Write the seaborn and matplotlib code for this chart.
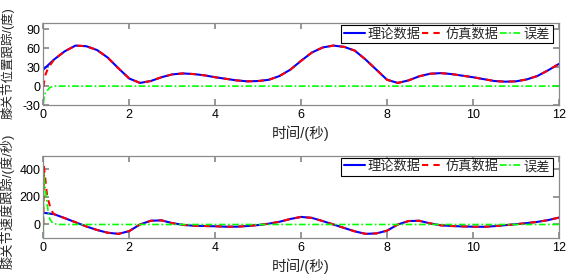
import matplotlib
matplotlib.use('Agg')
import matplotlib.pyplot as plt
import seaborn as sns

# time grid of the sampled curves (s)
t = [0.0, 0.25, 0.5, 0.75, 1.0, 1.25, 1.5, 1.75, 2.0, 2.25, 2.5, 2.75,
     3.0, 3.25, 3.5, 3.75, 4.0, 4.25, 4.5, 4.75, 5.0, 5.25, 5.5, 5.75,
     6.0, 6.25, 6.5, 6.75, 7.0, 7.25, 7.5, 7.75, 8.0, 8.25, 8.5, 8.75,
     9.0, 9.25, 9.5, 9.75, 10.0, 10.25, 10.5, 10.75, 11.0, 11.25, 11.5,
     11.75, 12.0]

# knee position, theory (deg)
pos_theory = [26, 42, 55, 64, 63, 57, 45, 28, 12, 5, 8, 14,
              18.5, 20, 19, 17, 14, 11.5, 9, 7.5, 8, 10, 16, 26,
              40, 53, 61, 64, 62, 56, 42, 26, 10, 5, 9, 15.5,
              19.5, 20.5, 19, 16.5, 14, 11, 8, 7, 7.5, 10.5, 16,
              25, 35]
# simulated position start-up (before it joins the theory curve)
pos_sim_t0 = [0.0, 0.05, 0.12, 0.2]
pos_sim_v0 = [-1, 18, 30, 37]
# position error
pos_err_t = [0.0, 0.02, 0.05, 0.08, 0.155, 0.27, 12.0]
pos_err = [-27, -18, -11, -8, -2, 0, 0]

# knee velocity, theory (deg/s)
vel_theory = [85, 75, 46, 16, -14, -40, -60, -68, -48, 0, 27, 30,
              10, -3, -9, -11, -13, -16, -16, -11, -4, 6, 20, 40,
              55, 48, 25, 0, -25, -50, -68, -65, -45, 0, 25, 27,
              8, -6, -11, -14, -16, -17, -12, -5, 2, 10, 19,
              32, 50]
vel_sim_t0 = [0.0, 0.015, 0.04, 0.09, 0.155, 0.22]
vel_sim_v0 = [0, 420, 350, 205, 133, 85]
vel_err_t = [0.0, 0.012, 0.03, 0.078, 0.116, 0.155, 0.23, 0.35, 12.0]
vel_err = [-85, 370, 300, 182, 85, 36, 7, 0, 0]

labels = ['理论数据', '仿真数据', '误差']

sns.set_theme(style="ticks", rc={
    "axes.edgecolor": "#8a8a8a",
    "axes.linewidth": 0.9,
    "xtick.direction": "in",
    "ytick.direction": "in",
    "xtick.top": True,
    "ytick.right": True,
    "xtick.color": "#8a8a8a",
    "ytick.color": "#8a8a8a",
    "xtick.labelcolor": "black",
    "ytick.labelcolor": "black",
    "xtick.major.size": 4,
    "ytick.major.size": 4,
    "xtick.major.pad": 3,
    "ytick.major.pad": 2,
    "xtick.labelsize": 9,
    "ytick.labelsize": 9,
})
plt.rcParams['font.family'] = ['Liberation Sans', 'Noto Sans CJK SC']
plt.rcParams['axes.unicode_minus'] = False

fig = plt.figure(figsize=(5.66, 2.78), dpi=100)
ax1 = fig.add_axes([0.0765, 0.622, 0.911, 0.296])
ax2 = fig.add_axes([0.0765, 0.143, 0.911, 0.297])

red_dash = (0, (3, 2.5))
green_dd = (0, (4, 1.5, 1, 1.5))


def draw_panel(ax, theory, sim_t0, sim_v0, err_t, err, ylim, yticks):
    sim_t = sim_t0 + t[1:]
    sim_v = sim_v0 + theory[1:]
    sns.lineplot(x=t, y=theory, color='#0000ff', lw=1.5, sort=False,
                 estimator=None, label=labels[0], ax=ax)
    sns.lineplot(x=sim_t, y=sim_v, color='#ff0000', lw=1.5, sort=False,
                 estimator=None, label=labels[1], ax=ax, linestyle=red_dash)
    sns.lineplot(x=err_t, y=err, color='#00ff00', lw=1.2, sort=False,
                 estimator=None, label=labels[2], ax=ax, linestyle=green_dd)
    ax.set_xlim(0, 12)
    ax.set_ylim(*ylim)
    ax.set_xticks(range(0, 13, 2))
    ax.set_yticks(yticks)
    ax.set_xlabel('时间/(秒)', fontsize=10.5, labelpad=3)
    ax.legend(loc='upper right', bbox_to_anchor=(0.988, 0.975), ncol=3,
              fontsize=9.5, frameon=True, fancybox=False, edgecolor='black',
              framealpha=1, borderpad=0.2, handlelength=1.6,
              handletextpad=0.2, columnspacing=0.1, borderaxespad=0)
    ax.legend_.get_frame().set_linewidth(0.8)


draw_panel(ax1, pos_theory, pos_sim_t0, pos_sim_v0, pos_err_t, pos_err,
           (-30, 100), [-30, 0, 30, 60, 90])
draw_panel(ax2, vel_theory, vel_sim_t0, vel_sim_v0, vel_err_t, vel_err,
           (-100, 500), [0, 200, 400])

# y labels in the left margin, stacked one above the other
fig.text(0.013, 1 - 63 / 278, '膝关节位置跟踪/(度)', rotation=90,
         ha='center', va='center', fontsize=9)
fig.text(0.013, 1 - 201 / 278, '膝关节速度跟踪/(度/秒)', rotation=90,
         ha='center', va='center', fontsize=9.5)

fig.savefig('out.png', dpi=100, facecolor='white')
